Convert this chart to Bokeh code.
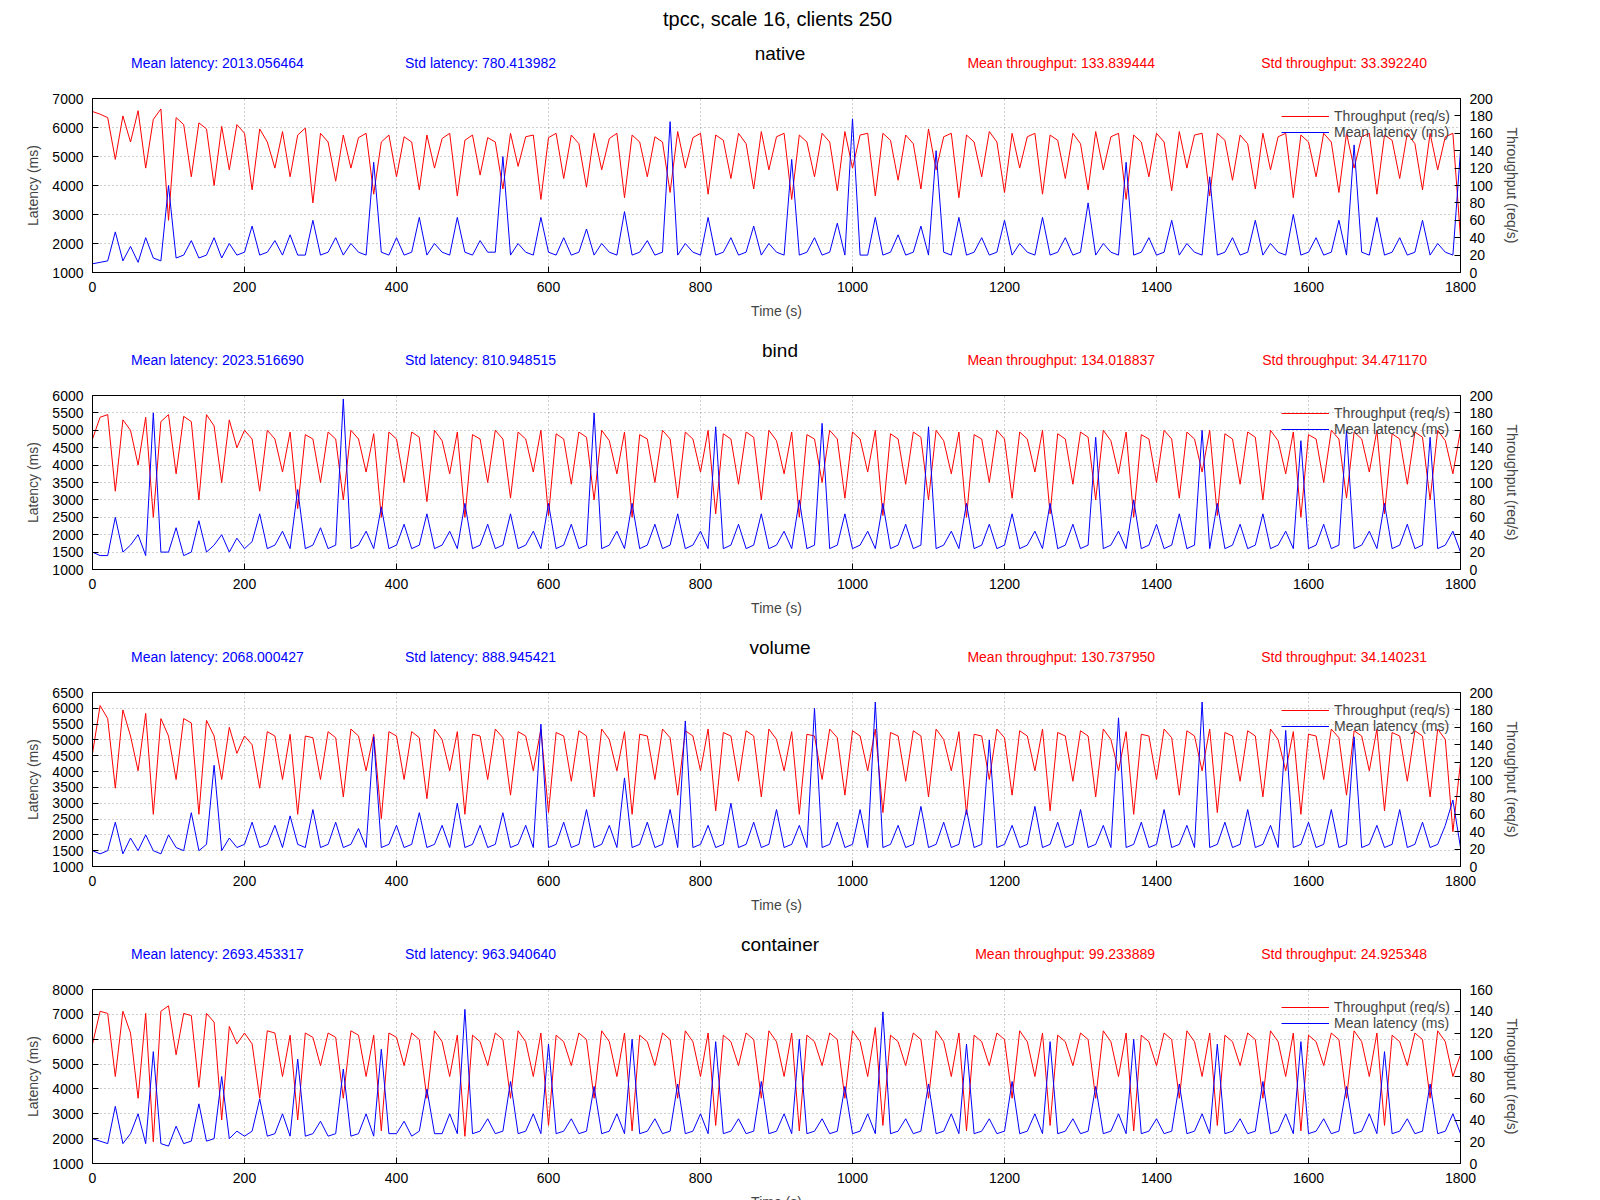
from bokeh.plotting import figure
from bokeh.models import Range1d, LinearAxis, SingleIntervalTicker, Legend, Div
from bokeh.layouts import column
from bokeh.embed import file_html
from bokeh.resources import INLINE

FONT = "Liberation Sans"

# one sample every 10 s, 0..1800 s
time_s = list(range(0, 1810, 10))

native_thr = [
185,182,178,130,180,150,186,120,176,188,
60,178,170,110,172,165,100,168,118,170,
160,95,165,150,120,162,110,158,166,80,
160,150,105,158,120,155,160,90,150,158,
110,156,150,95,158,120,154,160,88,152,
158,112,155,150,96,160,122,156,158,84,
155,160,108,158,148,98,160,118,154,160,
86,158,150,110,156,150,92,162,120,155,
160,90,158,152,108,160,148,96,162,118,
156,160,84,158,150,110,160,150,94,162,
120,158,160,88,160,152,106,158,148,96,
165,118,156,160,86,158,150,110,162,150,
92,160,120,156,160,90,158,152,108,160,
148,95,162,118,156,160,84,158,150,110,
160,150,94,162,120,158,160,88,160,152,
106,158,148,96,160,118,156,160,86,158,
150,110,160,150,92,160,120,156,160,90,
158,152,108,160,148,95,160,118,156,160,
40]
native_lat = [
1300,1350,1400,2400,1400,1900,1350,2200,1500,1400,
4000,1500,1600,2100,1500,1600,2200,1500,2000,1600,
1700,2600,1600,1700,2100,1600,2300,1600,1600,2800,
1600,1700,2200,1600,2000,1700,1600,4800,1700,1600,
2200,1600,1700,2900,1600,2000,1700,1600,2900,1700,
1600,2100,1700,1700,5000,1600,2000,1700,1600,2900,
1700,1600,2200,1600,1700,2500,1600,2000,1700,1600,
3100,1600,1700,2100,1600,1700,6200,1600,2000,1700,
1600,2900,1600,1700,2200,1600,1700,2600,1600,2000,
1700,1600,4900,1600,1700,2200,1600,1700,2700,1600,
6300,1600,1600,2900,1600,1700,2300,1600,1700,2600,
1600,5200,1700,1600,2900,1600,1700,2200,1600,1700,
2800,1600,2000,1700,1600,2900,1600,1700,2200,1600,
1700,3400,1600,2000,1700,1600,4800,1600,1700,2200,
1600,1700,2800,1600,2000,1700,1600,4300,1600,1700,
2200,1600,1700,2800,1600,2000,1700,1600,3000,1600,
1700,2200,1600,1700,2800,1600,5400,1700,1600,2900,
1600,1700,2200,1600,1700,2800,1600,2000,1700,1600,
5200]

bind_thr = [
150,175,178,90,172,160,120,175,60,170,
178,110,176,170,80,178,165,100,172,140,
160,150,90,160,150,112,158,70,155,150,
100,158,150,80,160,150,112,156,60,158,
150,100,158,152,78,160,148,110,158,60,
155,150,100,160,150,82,158,150,112,160,
62,156,150,98,158,152,80,160,148,110,
158,60,155,150,100,160,150,82,158,150,
112,160,64,156,150,98,158,152,80,160,
148,110,158,60,155,150,100,160,150,82,
158,150,112,160,62,156,150,98,158,152,
80,160,148,110,158,60,155,150,100,160,
150,82,158,150,112,160,64,156,150,98,
158,152,80,160,148,110,158,60,155,150,
100,160,150,82,158,150,112,160,62,156,
150,98,158,152,80,160,148,110,158,60,
155,150,100,160,150,82,158,150,112,160,
64,156,150,98,158,152,80,160,148,110,
160]
bind_lat = [
1500,1400,1400,2500,1500,1700,2000,1400,5500,1500,
1500,2200,1400,1500,2400,1500,1700,2000,1500,1900,
1600,1800,2600,1600,1700,2100,1600,3300,1600,1700,
2200,1600,1700,5900,1600,1700,2100,1600,2800,1600,
1700,2300,1600,1700,2600,1600,1700,2100,1600,2900,
1600,1700,2300,1600,1700,2600,1600,1700,2100,1600,
2900,1600,1700,2300,1600,1700,5500,1600,1700,2100,
1600,2900,1600,1700,2300,1600,1700,2600,1600,1700,
2100,1600,5100,1600,1700,2300,1600,1700,2600,1600,
1700,2100,1600,3000,1600,1700,5200,1600,1700,2600,
1600,1700,2100,1600,2900,1600,1700,2300,1600,1700,
5100,1600,1700,2100,1600,2900,1600,1700,2300,1600,
1700,2600,1600,1700,2100,1600,2900,1600,1700,2300,
1600,1700,4800,1600,1700,2100,1600,3000,1600,1700,
2300,1600,1700,2600,1600,1700,5000,1600,2900,1600,
1700,2300,1600,1700,2600,1600,1700,2100,1600,4700,
1600,1700,2300,1600,1700,5000,1600,1700,2100,1600,
2900,1600,1700,2300,1600,1700,4800,1600,1700,2100,
1500]

volume_thr = [
130,185,170,90,180,150,110,176,60,170,
150,100,170,165,60,168,150,100,160,130,
150,140,90,155,150,100,152,60,150,148,
100,155,148,80,158,150,110,152,55,155,
150,100,155,148,78,158,146,110,155,60,
152,150,100,158,148,82,155,150,110,158,
62,154,150,98,156,150,80,158,146,110,
155,60,152,150,100,158,148,82,156,150,
110,158,64,154,150,98,156,150,80,158,
146,110,155,60,152,150,100,158,148,82,
156,150,110,158,62,154,150,98,156,150,
80,158,146,110,155,60,152,150,100,158,
148,82,156,150,110,158,64,154,150,98,
156,150,80,158,146,110,155,60,152,150,
100,158,148,82,156,150,110,158,62,154,
150,98,156,150,80,158,146,110,155,60,
152,150,100,158,148,82,156,150,110,158,
64,154,150,98,156,150,80,158,146,40,
120]
volume_lat = [
1500,1400,1500,2400,1400,1900,1500,2000,1500,1400,
2000,1600,1500,2700,1500,1700,4200,1500,1900,1600,
1700,2400,1600,1700,2300,1600,2600,1700,1600,2800,
1600,1700,2400,1600,1700,2200,1600,5100,1600,1700,
2300,1600,1700,2700,1600,1700,2300,1600,3000,1600,
1700,2300,1600,1700,2700,1600,1700,2300,1600,5500,
1600,1700,2400,1600,1700,2800,1600,1700,2300,1600,
3800,1600,1700,2400,1600,1700,2800,1600,5600,1600,
1700,2300,1600,1700,3000,1600,1700,2400,1600,1700,
2800,1600,1700,2300,1600,6000,1600,1700,2400,1600,
1700,2800,1600,6200,1600,1700,2300,1600,1700,2900,
1600,1700,2400,1600,1700,2800,1600,1700,5000,1600,
1700,2300,1600,1700,2900,1600,1700,2400,1600,1700,
2800,1600,1700,2300,1600,5700,1600,1700,2400,1600,
1700,2800,1600,1700,2300,1600,6200,1600,1700,2400,
1600,1700,2800,1600,1700,2300,1600,5300,1600,1700,
2400,1600,1700,2800,1600,1700,5100,1600,1700,2300,
1600,1700,2800,1600,1700,2400,1600,1700,2300,3100,
1600]

container_thr = [
110,140,138,80,140,120,60,138,20,140,
145,100,138,136,70,138,130,40,126,110,
120,110,60,122,120,80,118,40,120,116,
90,120,116,60,122,118,80,118,30,120,
116,90,120,114,60,122,112,80,118,25,
118,112,90,120,114,60,122,112,80,120,
35,118,112,90,120,114,60,122,112,80,
120,30,118,112,90,120,114,60,122,112,
80,120,35,118,112,90,120,114,60,122,
112,80,120,30,118,112,90,120,114,60,
122,112,80,125,35,118,112,90,120,114,
60,122,112,80,120,30,118,112,90,120,
114,60,122,112,80,120,35,118,112,90,
120,114,60,122,112,80,120,30,118,112,
90,120,114,60,122,112,80,120,35,118,
112,90,120,114,60,122,112,80,120,30,
118,112,90,120,114,60,122,112,80,120,
35,118,112,90,120,114,60,122,112,80,
100]
container_lat = [
2000,1900,1800,3300,1800,2200,3000,1800,5500,1800,
1700,2500,1800,1900,3400,1900,2000,4500,2000,2300,
2100,2300,3600,2100,2200,3000,2100,5200,2100,2200,
2700,2100,2200,4800,2100,2200,3000,2100,5600,2200,
2200,2700,2100,2300,4000,2200,2200,3000,2200,7200,
2200,2300,2800,2200,2300,4300,2200,2300,3000,2200,
5800,2200,2300,2800,2200,2300,4100,2200,2300,3000,
2200,6000,2200,2300,2800,2200,2300,4200,2200,2300,
3000,2200,5900,2200,2300,2800,2200,2300,4300,2200,
2300,3000,2200,6000,2200,2300,2800,2200,2300,4100,
2200,2300,3000,2200,7100,2200,2300,2800,2200,2300,
4200,2200,2300,3000,2200,5800,2200,2300,2800,2200,
2300,4300,2200,2300,3000,2200,5900,2200,2300,2800,
2200,2300,4100,2200,2300,3000,2200,6000,2200,2300,
2800,2200,2300,4200,2200,2300,3000,2200,5800,2200,
2300,2800,2200,2300,4300,2200,2300,3000,2200,5900,
2200,2300,2800,2200,2300,4100,2200,2300,3000,2200,
5500,2200,2300,2800,2200,2300,4200,2200,2300,3000,
2200]

panel_names = ["native", "bind", "volume", "container"]
mean_latency = ["2013.056464", "2023.516690", "2068.000427", "2693.453317"]
std_latency = ["780.413982", "810.948515", "888.945421", "963.940640"]
mean_thr = ["133.839444", "134.018837", "130.737950", "99.233889"]
std_thr = ["33.392240", "34.471170", "34.140231", "24.925348"]
lat_ranges = [(1000, 7000, 1000), (1000, 6000, 500), (1000, 6500, 500), (1000, 8000, 1000)]
thr_ranges = [(0, 200), (0, 200), (0, 200), (0, 160)]
thr_series = [native_thr, bind_thr, volume_thr, container_thr]
lat_series = [native_lat, bind_lat, volume_lat, container_lat]

W = 1545
FH = 174

def span(text, color, left=None, right=None, bottom=6, size=14):
    pos = "left:%dpx;" % left if left is not None else "right:%dpx;" % right
    return ('<span style="position:absolute;%sbottom:%dpx;color:%s;font-size:%dpx;'
            'white-space:nowrap;">%s</span>' % (pos, bottom, color, size, text))

items = [Div(text='<div style="width:%dpx;text-align:center;font-family:\'%s\';font-size:20px;">'
             'tpcc, scale 16, clients 250</div>' % (W, FONT), width=W, height=20)]

for i, name in enumerate(panel_names):
    lo, hi, step = lat_ranges[i]
    header = (span("Mean latency: " + mean_latency[i], "#0000ff", left=126)
              + span("Std latency: " + std_latency[i], "#0000ff", left=400)
              + '<span style="position:absolute;left:0;width:%dpx;text-align:center;bottom:12px;'
                'font-size:19px;color:black;">%s</span>' % (2 * 775, name)
              + span("Mean throughput: " + mean_thr[i], "#ff0000", right=W - 1150)
              + span("Std throughput: " + std_thr[i], "#ff0000", right=W - 1422))
    items.append(Div(text='<div style="position:relative;width:%dpx;height:44px;font-family:\'%s\';">%s</div>'
                     % (W, FONT, header), width=W, height=44))

    p = figure(frame_width=1368, frame_height=FH, output_backend="svg", toolbar_location=None,
               x_range=Range1d(0, 1800), y_range=Range1d(lo, hi),
               min_border_left=92, min_border_right=85, min_border_top=14, min_border_bottom=55)
    p.extra_y_ranges = {"thr": Range1d(*thr_ranges[i])}

    r1 = p.line(time_s, thr_series[i], color="#ff0000", line_width=1, y_range_name="thr")
    r2 = p.line(time_s, lat_series[i], color="#0000ff", line_width=1)

    ax = LinearAxis(y_range_name="thr", axis_label="Throughput (req/s)",
                    ticker=SingleIntervalTicker(interval=20))
    p.add_layout(ax, "right")
    p.yaxis[0].ticker = SingleIntervalTicker(interval=step)
    p.yaxis[0].axis_label = "Latency (ms)"
    p.xaxis.ticker = SingleIntervalTicker(interval=200)
    p.xaxis.axis_label = "Time (s)"
    for a in p.xaxis + p.yaxis:
        a.major_tick_in = 6
        a.major_tick_out = 0
        a.minor_tick_line_color = None
        a.axis_line_color = "black"
        a.major_label_text_font = FONT
        a.major_label_text_font_size = "14px"
        a.major_label_text_color = "black"
        a.axis_label_text_font = FONT
        a.axis_label_text_font_size = "14px"
        a.axis_label_text_font_style = "normal"
        a.axis_label_standoff = 8
    p.outline_line_color = "black"
    p.grid.grid_line_color = "#a0a0a0"
    p.grid.grid_line_dash = "1 3"
    p.ygrid.ticker = SingleIntervalTicker(interval=step)

    leg = Legend(items=[("Throughput (req/s)", [r1]), ("Mean latency (ms)", [r2])],
                 location="top_right", background_fill_alpha=0, border_line_alpha=0,
                 label_text_font=FONT, label_text_font_size="14px", glyph_width=48,
                 spacing=0, padding=4, label_height=16, glyph_height=16, margin=6)
    p.add_layout(leg)
    items.append(p)

layout = column(*items, spacing=0)
open("out.html", "w").write(file_html(layout, INLINE))
